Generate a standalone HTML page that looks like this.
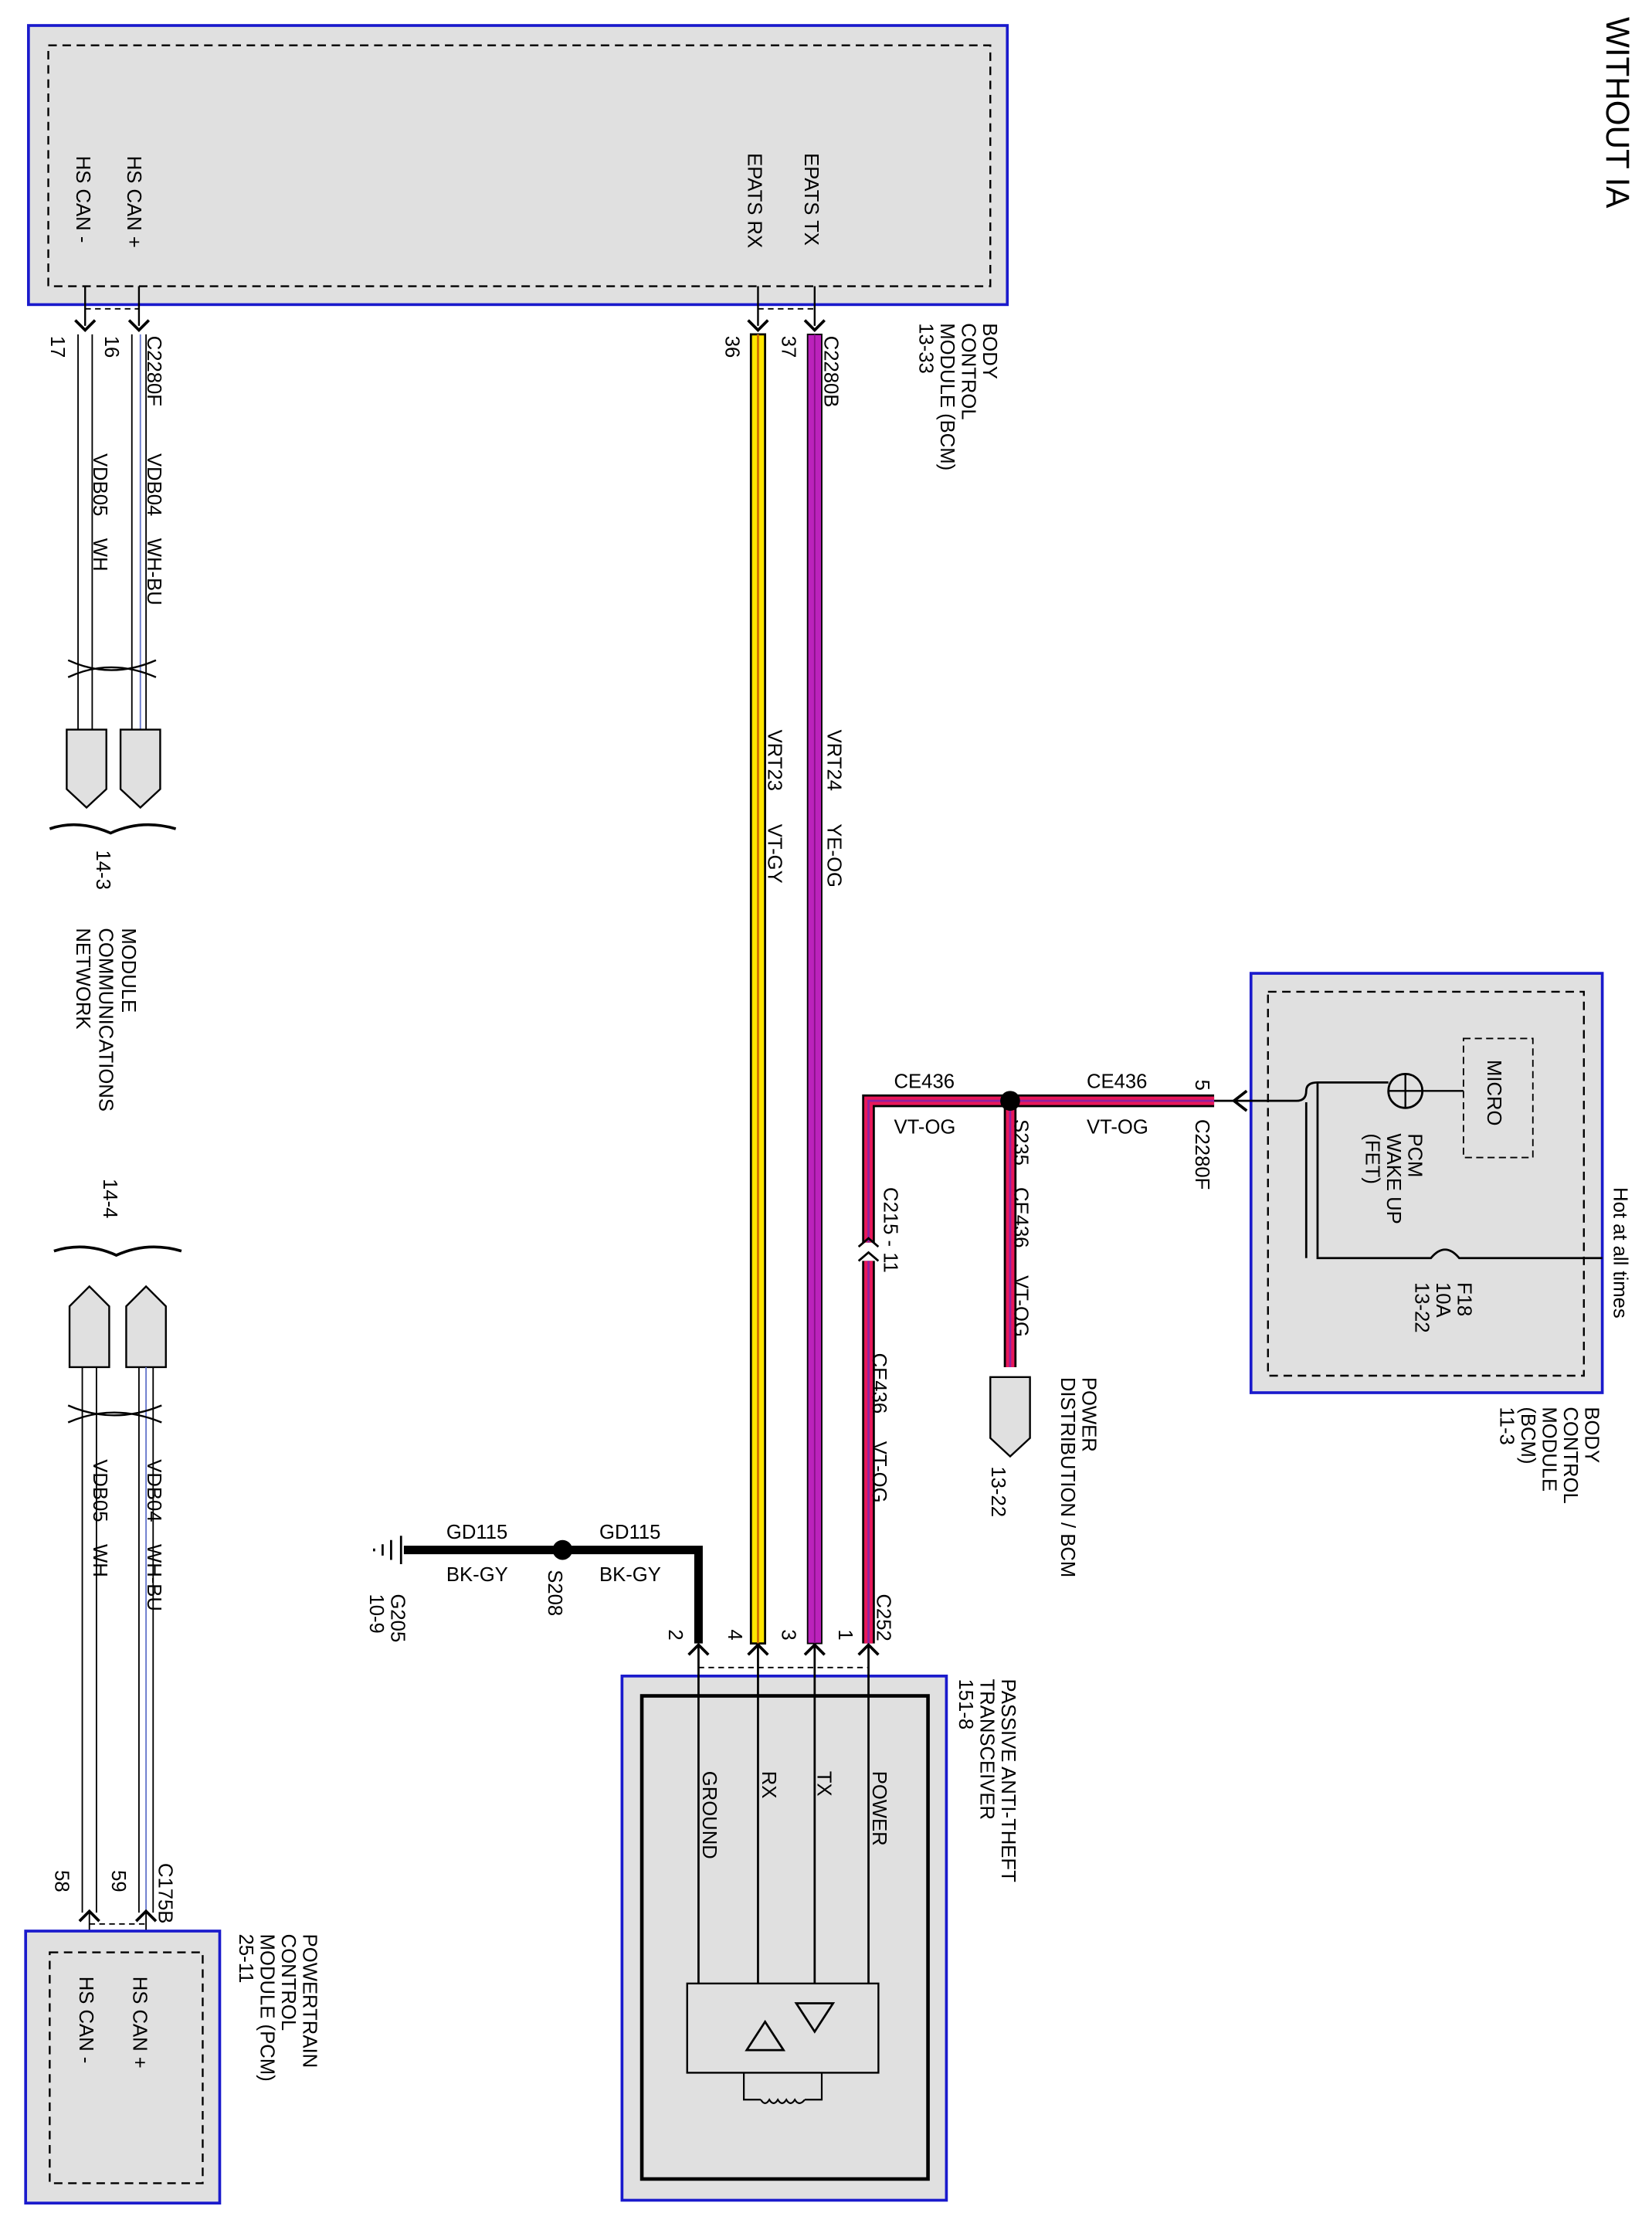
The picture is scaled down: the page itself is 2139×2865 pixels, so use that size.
<!DOCTYPE html>
<html><head><meta charset="utf-8"><style>
html,body{margin:0;padding:0;background:#fff;}
svg{display:block;}
text{font-family:"Liberation Sans",sans-serif;font-size:14px;fill:#000;white-space:pre;}
</style></head><body>
<svg width="2139" height="2865" viewBox="0 0 1166 1562" xmlns="http://www.w3.org/2000/svg">
<defs>
<g id="pd"><path d="M-7,-6 L0,1 L7,-6" fill="none" stroke="#000" stroke-width="2"/></g>
<g id="pu"><path d="M-7,6 L0,-1 L7,6" fill="none" stroke="#000" stroke-width="2"/></g>
</defs>
<rect width="1166" height="1562" fill="#fff"/>

<rect x="20" y="18" width="691" height="197" fill="#e0e0e0" stroke="#1a1acc" stroke-width="2"/>
<rect x="34" y="32" width="665" height="170" fill="none" stroke="#000" stroke-width="1.3" stroke-dasharray="6,4"/>
<text transform="translate(54,110) rotate(90)">HS CAN -</text>
<text transform="translate(90,110) rotate(90)">HS CAN +</text>
<text transform="translate(528,108) rotate(90)">EPATS RX</text>
<text transform="translate(568,108) rotate(90)">EPATS TX</text>
<path d="M60,218 H98 M535,218 H575" stroke="#000" stroke-dasharray="4,3"/>
<g stroke="#000" stroke-width="1.3"><line x1="60" y1="202" x2="60" y2="230"/><line x1="98" y1="202" x2="98" y2="230"/><line x1="535" y1="202" x2="535" y2="230"/><line x1="575" y1="202" x2="575" y2="230"/></g>
<use href="#pd" x="60" y="232"/><use href="#pd" x="98" y="232"/><use href="#pd" x="535" y="232"/><use href="#pd" x="575" y="232"/>
<text transform="translate(104,237) rotate(90)">C2280F</text>
<text transform="translate(74,237) rotate(90)">16</text>
<text transform="translate(36,237) rotate(90)">17</text>
<text transform="translate(104,320) rotate(90)">VDB04    WH-BU</text>
<text transform="translate(66,320) rotate(90)">VDB05    WH</text>
<text transform="translate(512,237) rotate(90)">36</text>
<text transform="translate(552,237) rotate(90)">37</text>
<text transform="translate(582,237) rotate(90)">C2280B</text>
<text transform="translate(542,515) rotate(90)">VRT23      VT-GY</text>
<text transform="translate(584,515) rotate(90)">VRT24      YE-OG</text>
<text transform="translate(694,228) rotate(90)">BODY</text>
<text transform="translate(679,228) rotate(90)">CONTROL</text>
<text transform="translate(664,228) rotate(90)">MODULE (BCM)</text>
<text transform="translate(649,228) rotate(90)">13-33</text>

<g fill="none" stroke="#000"><path d="M55,236 V515 M65,236 V515 M93,236 V515 M103,236 V515"/></g>
<line x1="99" y1="236" x2="99" y2="515" stroke="#6677cc"/>
<path d="M48,466 Q78,480 110,466 M48,478 Q78,464 110,478" fill="none" stroke="#000" stroke-width="1.3"/>
<path d="M47,515 H75 V557 L61,570 L47,557 Z M85,515 H113 V557 L99,570 L85,557 Z" fill="#e0e0e0" stroke="#000" stroke-width="1.3"/>
<path d="M35,585 Q55,578 78,588 Q100,578 124,585" fill="none" stroke="#000" stroke-width="2"/>
<text transform="translate(68,600) rotate(90)">14-3</text>
<text transform="translate(86,655) rotate(90)">MODULE</text>
<text transform="translate(70,655) rotate(90)">COMMUNICATIONS</text>
<text transform="translate(54,655) rotate(90)">NETWORK</text>

<text transform="translate(73,832) rotate(90)">14-4</text>
<path d="M38,883 Q60,876 82,886 Q104,876 128,883" fill="none" stroke="#000" stroke-width="2"/>
<path d="M49,965 V922 L63,908 L77,922 V965 Z M89,965 V922 L103,908 L117,922 V965 Z" fill="#e0e0e0" stroke="#000" stroke-width="1.3"/>
<g fill="none" stroke="#000"><path d="M58,965 V1350 M68,965 V1350 M98,965 V1350 M108,965 V1350"/></g>
<line x1="103" y1="965" x2="103" y2="1350" stroke="#6677cc"/>
<path d="M48,992 Q80,1006 114,992 M48,1004 Q80,990 114,1004" fill="none" stroke="#000" stroke-width="1.3"/>
<text transform="translate(104,1030) rotate(90)">VDB04    WH-BU</text>
<text transform="translate(66,1030) rotate(90)">VDB05    WH</text>
<text transform="translate(112,1315) rotate(90)">C175B</text>
<text transform="translate(79,1320) rotate(90)">59</text>
<text transform="translate(39,1320) rotate(90)">58</text>
<use href="#pu" x="63" y="1350"/><use href="#pu" x="103" y="1350"/>
<path d="M63,1358 H103" stroke="#000" stroke-dasharray="4,3"/>
<line x1="63" y1="1350" x2="63" y2="1378" stroke="#000"/><line x1="103" y1="1350" x2="103" y2="1378" stroke="#000"/>
<rect x="18" y="1363" width="137" height="192" fill="#e0e0e0" stroke="#1a1acc" stroke-width="2"/>
<rect x="35" y="1378" width="108" height="163" fill="none" stroke="#000" stroke-width="1.3" stroke-dasharray="6,4"/>
<text transform="translate(94,1395) rotate(90)">HS CAN +</text>
<text transform="translate(56,1395) rotate(90)">HS CAN -</text>
<text transform="translate(214,1365) rotate(90)">POWERTRAIN</text>
<text transform="translate(199,1365) rotate(90)">CONTROL</text>
<text transform="translate(184,1365) rotate(90)">MODULE (PCM)</text>
<text transform="translate(169,1365) rotate(90)">25-11</text>

<rect x="530" y="236" width="10" height="924" fill="#ffe600" stroke="#000" stroke-width="1.5"/>
<line x1="535" y1="236" x2="535" y2="1160" stroke="#d07000" stroke-width="1.5"/>
<rect x="570" y="236" width="10" height="924" fill="#bb22bb" stroke="#000" stroke-width="1"/>
<line x1="575" y1="236" x2="575" y2="1160" stroke="#881188" stroke-width="1"/>

<g stroke="#000" stroke-width="9" fill="none"><path d="M613,877 V777 H857"/><path d="M613,890 V1160"/><path d="M713,777 V965"/></g>
<g stroke="#e8185a" stroke-width="6" fill="none"><path d="M613,877 V777 H857"/><path d="M613,890 V1160"/><path d="M713,777 V965"/></g>
<g stroke="#9020a0" stroke-width="1.5" fill="none"><path d="M613,877 V777 H857"/><path d="M613,890 V1160"/><path d="M713,777 V965"/></g>
<circle cx="713" cy="777" r="7" fill="#000"/>
<path d="M606,880 L613,874 L620,880 M606,890 L613,884 L620,890" fill="none" stroke="#000" stroke-width="1.5"/>
<text x="631" y="768">CE436</text><text x="631" y="800">VT-OG</text>
<text x="767" y="768">CE436</text><text x="767" y="800">VT-OG</text>
<text transform="translate(716,790) rotate(90)">S235</text>
<text transform="translate(716,838) rotate(90)">CE436     VT-OG</text>
<text transform="translate(624,838) rotate(90)">C215 - 11</text>
<text transform="translate(616,955) rotate(90)">CE436     VT-OG</text>
<text transform="translate(844,790) rotate(90)">C2280F</text>
<text transform="translate(844,762) rotate(90)">5</text>
<path d="M699,972 H727 V1015 L713,1028 L699,1015 Z" fill="#e0e0e0" stroke="#000" stroke-width="1.3"/>
<text transform="translate(764,972) rotate(90)">POWER</text>
<text transform="translate(749,972) rotate(90)">DISTRIBUTION / BCM</text>
<text transform="translate(700,1035) rotate(90)">13-22</text>

<rect x="883" y="687" width="248" height="296" fill="#e0e0e0" stroke="#1a1acc" stroke-width="2"/>
<rect x="895" y="700" width="223" height="271" fill="none" stroke="#000" stroke-width="1.3" stroke-dasharray="6,4"/>
<rect x="1033" y="733" width="49" height="84" fill="none" stroke="#000" stroke-dasharray="5,3"/>
<text transform="translate(1050,748) rotate(90)">MICRO</text>
<circle cx="992" cy="770" r="12" fill="none" stroke="#000" stroke-width="1.5"/>
<path d="M980,770 H1033 M992,758 V782" stroke="#000" stroke-width="1.3"/>
<path d="M857,777 H915 Q922,777 922,770 Q922,764 930,764 H980" fill="none" stroke="#000" stroke-width="1.5"/>
<path d="M930,764 V888 H1010 Q1020,876 1030,888 H1131" fill="none" stroke="#000" stroke-width="1.5"/>
<line x1="922" y1="778" x2="922" y2="888" stroke="#000" stroke-width="1.5"/>
<path d="M880,770 L871,777 L880,784" fill="none" stroke="#000" stroke-width="2"/>
<text transform="translate(994,800) rotate(90)">PCM</text>
<text transform="translate(979,800) rotate(90)">WAKE UP</text>
<text transform="translate(964,800) rotate(90)">(FET)</text>
<text transform="translate(1029,905) rotate(90)">F18</text>
<text transform="translate(1014,905) rotate(90)">10A</text>
<text transform="translate(999,905) rotate(90)">13-22</text>
<text transform="translate(1139,838) rotate(90)">Hot at all times</text>
<text transform="translate(1119,993) rotate(90)">BODY</text>
<text transform="translate(1104,993) rotate(90)">CONTROL</text>
<text transform="translate(1089,993) rotate(90)">MODULE</text>
<text transform="translate(1074,993) rotate(90)">(BCM)</text>
<text transform="translate(1059,993) rotate(90)">11-3</text>

<text transform="translate(1134,12) rotate(90)" style="font-size:23px">WITHOUT IA</text>

<path d="M493,1160 V1094 H285" fill="none" stroke="#000" stroke-width="6"/>
<circle cx="397" cy="1094" r="7" fill="#000"/>
<path d="M283,1084 V1104 M276,1087 V1101 M270,1090 V1098 M264,1093 V1095" stroke="#000" stroke-width="1.5"/>
<text x="315" y="1086">GD115</text><text x="315" y="1116">BK-GY</text>
<text x="423" y="1086">GD115</text><text x="423" y="1116">BK-GY</text>
<text transform="translate(387,1108) rotate(90)">S208</text>
<text transform="translate(276,1125) rotate(90)">G205</text>
<text transform="translate(261,1125) rotate(90)">10-9</text>
<text transform="translate(619,1125) rotate(90)">C252</text>
<text transform="translate(592,1150) rotate(90)">1</text>
<text transform="translate(552,1150) rotate(90)">3</text>
<text transform="translate(514,1150) rotate(90)">4</text>
<text transform="translate(472,1150) rotate(90)">2</text>
<use href="#pu" x="493" y="1162"/><use href="#pu" x="535" y="1162"/><use href="#pu" x="575" y="1162"/><use href="#pu" x="613" y="1162"/>
<path d="M493,1177 H613" stroke="#000" stroke-dasharray="4,3"/>

<rect x="439" y="1183" width="229" height="370" fill="#e0e0e0" stroke="#1a1acc" stroke-width="2"/>
<rect x="453" y="1197" width="202" height="341" fill="#e0e0e0" stroke="#000" stroke-width="2.5"/>
<g stroke="#000" stroke-width="1.5"><line x1="493" y1="1162" x2="493" y2="1400"/><line x1="535" y1="1162" x2="535" y2="1400"/><line x1="575" y1="1162" x2="575" y2="1400"/><line x1="613" y1="1162" x2="613" y2="1400"/></g>
<text transform="translate(616,1250) rotate(90)">POWER</text>
<text transform="translate(577,1250) rotate(90)">TX</text>
<text transform="translate(538,1250) rotate(90)">RX</text>
<text transform="translate(496,1250) rotate(90)">GROUND</text>
<rect x="485" y="1400" width="135" height="63" fill="#e0e0e0" stroke="#000" stroke-width="1.3"/>
<path d="M527,1447 L540,1427 L553,1447 Z M562,1414 L588,1414 L575,1434 Z" fill="none" stroke="#000" stroke-width="1.5"/>
<path d="M525,1463 V1482 H537 M568,1482 H580 V1463 M537,1482 q3,5 6,0 q3,5 6,0 q3,5 6,0 q3,5 6,0 q3,5 7,0" fill="none" stroke="#000" stroke-width="1.2"/>
<text transform="translate(707,1185) rotate(90)">PASSIVE ANTI-THEFT</text>
<text transform="translate(692,1185) rotate(90)">TRANSCEIVER</text>
<text transform="translate(677,1185) rotate(90)">151-8</text>
</svg>
</body></html>
